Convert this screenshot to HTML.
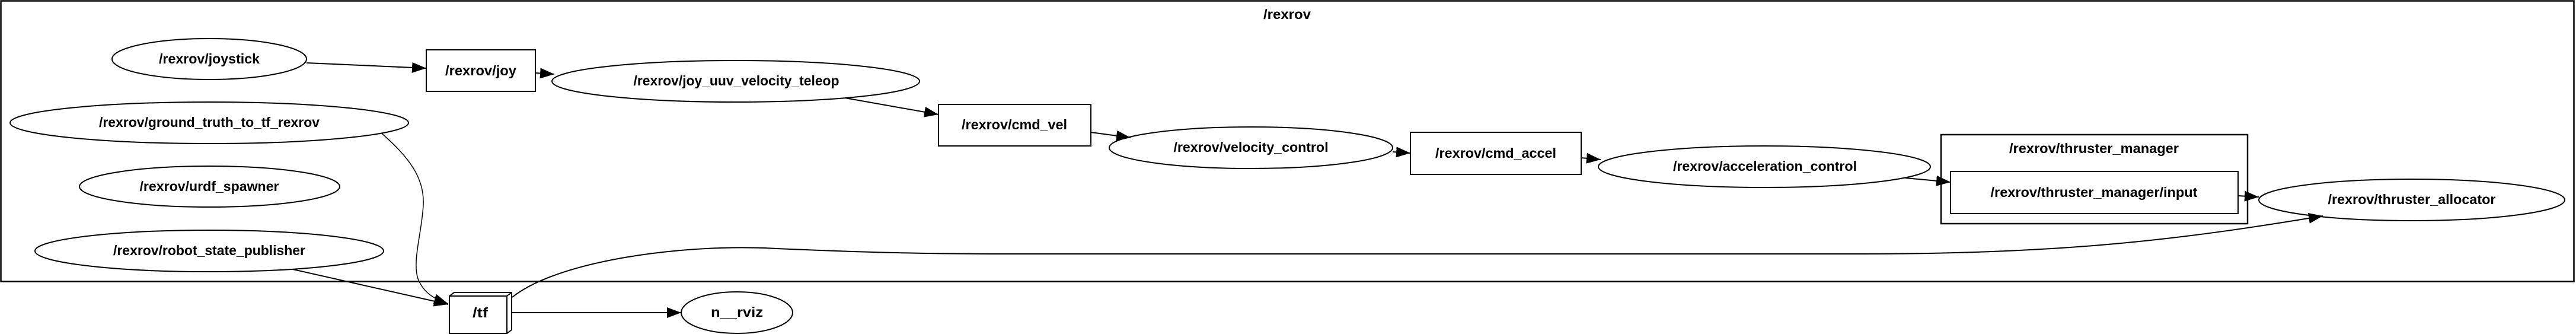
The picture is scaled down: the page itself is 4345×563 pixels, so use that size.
<!DOCTYPE html>
<html><head><meta charset="utf-8"><style>
html,body{margin:0;padding:0;background:#fff;}
svg{display:block;}
text{font-family:"Liberation Sans","DejaVu Sans",sans-serif;font-weight:bold;font-size:23px;text-anchor:middle;fill:#000;}
</style></head><body>
<svg width="4345" height="563" viewBox="0 0 4345 563" xmlns="http://www.w3.org/2000/svg">
<defs>
<marker id="a" markerUnits="userSpaceOnUse" markerWidth="26" markerHeight="20" refX="24" refY="9" orient="auto">
<path d="M0,0 L24,9 L0,18 Z" fill="#000"/>
</marker>
</defs>
<g fill="none" stroke="#000" stroke-width="2.5">
<rect x="1.5" y="1.5" width="4340" height="473"/>
<rect x="3274" y="227" width="517" height="150"/>
</g>
<text x="2171" y="32" textLength="80" lengthAdjust="spacingAndGlyphs">/rexrov</text>
<text x="3532" y="258" textLength="286" lengthAdjust="spacingAndGlyphs">/rexrov/thruster_manager</text>

<g fill="#fff" stroke="#000" stroke-width="2">
<ellipse cx="353" cy="99.5" rx="164" ry="34.5"/>
<rect x="719" y="84" width="184" height="70"/>
<ellipse cx="353" cy="207" rx="336" ry="35"/>
<ellipse cx="353.5" cy="314.5" rx="219.5" ry="34.5"/>
<ellipse cx="353" cy="423" rx="294" ry="35"/>
<ellipse cx="1241" cy="137" rx="310" ry="35"/>
<rect x="1583" y="176" width="257" height="70"/>
<ellipse cx="2110" cy="249" rx="239" ry="35"/>
<rect x="2379" y="223" width="288" height="71"/>
<ellipse cx="2976" cy="281" rx="280" ry="35"/>
<rect x="3290" y="289" width="485" height="71"/>
<ellipse cx="4068" cy="337" rx="258" ry="35"/>
<ellipse cx="1243" cy="527" rx="94" ry="35"/>
<path d="M758,499 L766,493 L863,493 L863,556 L855,562"/>
<path d="M855,499 L863,493" />
<rect x="758" y="499" width="97" height="63"/>
</g>

<text x="353" y="107" textLength="170" lengthAdjust="spacingAndGlyphs">/rexrov/joystick</text>
<text x="811" y="127" textLength="120" lengthAdjust="spacingAndGlyphs">/rexrov/joy</text>
<text x="353" y="214" textLength="372" lengthAdjust="spacingAndGlyphs">/rexrov/ground_truth_to_tf_rexrov</text>
<text x="353" y="322" textLength="235" lengthAdjust="spacingAndGlyphs">/rexrov/urdf_spawner</text>
<text x="353" y="430" textLength="324" lengthAdjust="spacingAndGlyphs">/rexrov/robot_state_publisher</text>
<text x="810" y="535" textLength="26" lengthAdjust="spacingAndGlyphs">/tf</text>
<text x="1242" y="144" textLength="347" lengthAdjust="spacingAndGlyphs">/rexrov/joy_uuv_velocity_teleop</text>
<text x="1711" y="218" textLength="178" lengthAdjust="spacingAndGlyphs">/rexrov/cmd_vel</text>
<text x="2110" y="256" textLength="261" lengthAdjust="spacingAndGlyphs">/rexrov/velocity_control</text>
<text x="2523" y="266" textLength="204" lengthAdjust="spacingAndGlyphs">/rexrov/cmd_accel</text>
<text x="2977" y="288" textLength="310" lengthAdjust="spacingAndGlyphs">/rexrov/acceleration_control</text>
<text x="3532" y="332" textLength="349" lengthAdjust="spacingAndGlyphs">/rexrov/thruster_manager/input</text>
<text x="4068" y="344" textLength="283" lengthAdjust="spacingAndGlyphs">/rexrov/thruster_allocator</text>
<text x="1243" y="534" textLength="88" lengthAdjust="spacingAndGlyphs">n__rviz</text>

<g fill="none" stroke="#000" stroke-width="2" marker-end="url(#a)">
<path d="M517,106 L719,115"/>
<path d="M903,123 L935,125"/>
<path d="M1425,165 L1583,193"/>
<path d="M1840,223 L1907,232"/>
<path d="M2349,256 L2379,258"/>
<path d="M2667,266 L2700,269"/>
<path d="M3214,300 L3290,307"/>
<path d="M3775,330 L3810,332"/>
<path d="M863,527 L1149,527"/>
<path d="M494,454 L756,513"/>
<path stroke-width="1.5" d="M644,225 C690,265 716,300 714,345 C712,390 695,440 705,470 C715,495 735,505 756,512"/>
<path stroke-width="2" d="M864,501 C940,440 1150,410 1310,419 C1450,425 1550,428 1689,428 L3145,428 C3500,428 3700,400 3918,364"/>
</g>
</svg>
</body></html>
